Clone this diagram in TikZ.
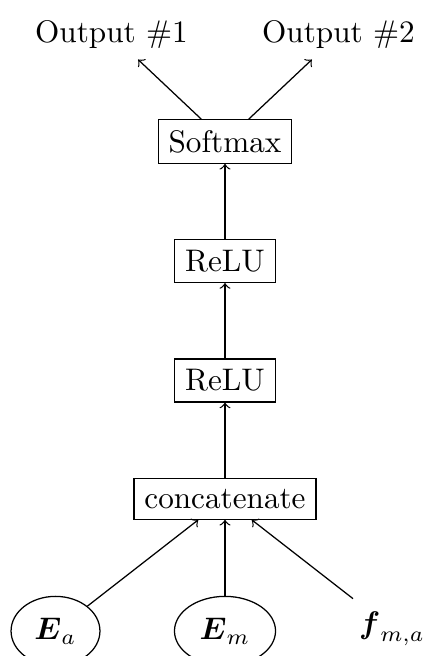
\documentclass[tikz,border=0pt]{standalone}
\usepackage{amsmath}
\usetikzlibrary{shapes.geometric}
\tikzset{
  layer/.style={draw, rectangle},
  invar/.style={draw, ellipse, minimum height=22.2pt},
  plainvar/.style={ellipse},
  flow/.style={->}
}
\begin{document}
\begin{tikzpicture}[x=0.3205pt, y=-0.3205pt]
  \useasboundingbox (0,0) rectangle (423,656);

  % outputs
  \node (out1) at (111.5,34.5) {Output \#1};
  \node (out2) at (338.5,34.5) {Output \#2};

  % layer stack
  \node[layer] (soft)   at (225,141.5) {Softmax};
  \node[layer] (relu2)  at (225,261)   {ReLU};
  \node[layer] (relu1)  at (225,380.5) {ReLU};
  \node[layer] (concat) at (225,499)   {concatenate};

  % inputs
  \node[invar]    (ea) at (55.5,631) {$\boldsymbol{E}_a$};
  \node[invar]    (em) at (225,631)  {$\boldsymbol{E}_m$};
  \node[plainvar] (fm) at (392,629)  {$\boldsymbol{f}_{m,a}$};

  % connections
  \draw[flow] (ea) -- (concat);
  \draw[flow] (em) -- (concat);
  \draw[flow] (fm) -- (concat);
  \draw[flow] (concat) -- (relu1);
  \draw[flow] (relu1) -- (relu2);
  \draw[flow] (relu2) -- (soft);
  \draw[flow] (soft) -- (out1);
  \draw[flow] (soft) -- (out2);
\end{tikzpicture}
\end{document}
